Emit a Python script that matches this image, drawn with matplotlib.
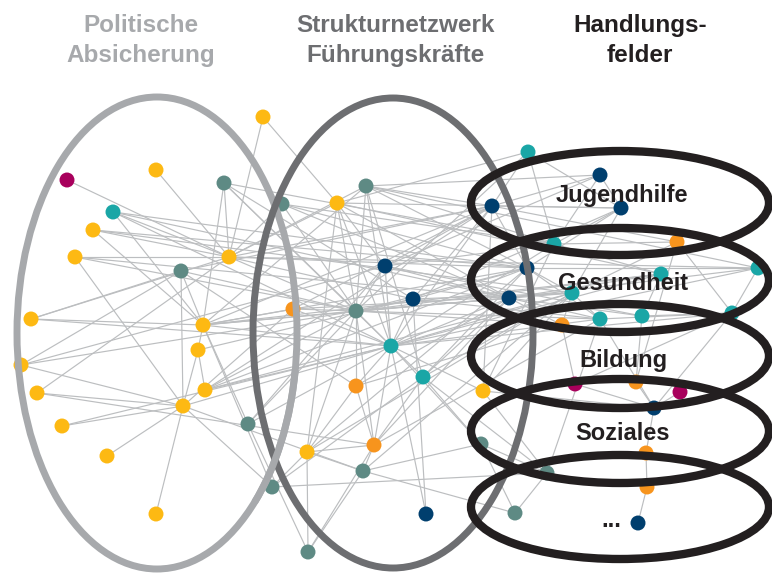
import matplotlib.pyplot as plt
from matplotlib.patches import Ellipse, Arc

# Node positions (pixel coords, y downwards) and their colour group
node_x = [263, 67, 156, 224, 113, 93, 75, 229, 181, 31, 203, 198, 21, 37, 205, 183, 62, 248, 107, 272, 156, 282, 293,
          366, 337, 385, 413, 356, 391, 423, 356, 374, 307, 363, 426, 308,
          528, 600, 492, 621, 554, 677, 527, 661, 758, 572, 509, 600, 642, 732, 562, 483, 575, 636, 680, 654, 481, 646,
          547, 647, 515, 638]
node_y = [117, 180, 170, 183, 212, 230, 257, 257, 271, 319, 325, 350, 365, 393, 390, 406, 426, 424, 456, 487, 514, 204, 309,
          186, 203, 266, 299, 311, 346, 377, 386, 445, 452, 471, 514, 552,
          152, 175, 206, 208, 244, 242, 268, 274, 268, 293, 298, 319, 316, 313, 325, 391, 384, 382, 392, 408, 444, 453,
          473, 487, 513, 523]
node_group = ['Y', 'M', 'Y', 'G', 'T', 'Y', 'Y', 'Y', 'G', 'Y', 'Y', 'Y', 'Y', 'Y', 'Y', 'Y', 'Y', 'G', 'Y', 'G', 'Y', 'G', 'O',
              'G', 'Y', 'N', 'N', 'G', 'T', 'T', 'O', 'O', 'Y', 'G', 'N', 'G',
              'T', 'N', 'N', 'N', 'T', 'O', 'N', 'T', 'T', 'T', 'N', 'T', 'T', 'T', 'O', 'Y', 'M', 'O', 'M', 'N', 'G', 'O',
              'G', 'O', 'G', 'N']

edges = [(1, 7), (2, 7), (0, 7), (0, 24), (3, 7), (3, 10), (3, 27), (3, 26), (3, 28), (4, 7), (4, 10), (4, 46), (4, 28),
         (5, 7), (5, 10), (5, 42), (6, 7), (6, 27), (6, 15), (8, 9), (8, 12), (8, 10), (8, 27), (8, 30), (8, 15),
         (9, 10), (9, 7), (10, 11), (10, 22), (10, 27), (10, 28), (10, 42), (10, 46), (10, 38), (10, 23), (10, 19),
         (10, 17), (11, 14), (11, 15), (12, 15), (12, 25), (13, 15), (13, 7), (14, 27), (14, 28), (14, 38), (15, 16),
         (15, 18), (15, 20), (15, 19), (15, 28), (15, 33), (15, 22), (7, 23), (7, 24), (7, 21), (7, 27), (7, 38),
         (7, 42), (7, 26), (17, 28), (17, 35), (17, 25), (19, 32), (19, 58), (21, 27), (21, 46), (21, 40), (22, 27),
         (22, 45), (23, 27), (23, 28), (23, 29), (23, 38), (23, 42), (23, 40), (24, 27), (24, 25), (24, 32), (24, 28),
         (24, 46), (24, 36), (25, 27), (25, 28), (25, 38), (25, 46), (25, 40), (26, 27), (26, 28), (26, 42), (26, 38),
         (27, 28), (27, 30), (27, 31), (27, 32), (27, 45), (27, 47), (27, 42), (27, 50), (28, 29), (28, 30), (28, 31),
         (28, 34), (28, 38), (28, 40), (28, 45), (28, 46), (28, 43), (28, 47), (28, 51), (29, 42), (29, 56), (29, 58),
         (30, 31), (31, 32), (31, 33), (31, 29), (31, 46), (32, 33), (33, 35), (33, 56), (36, 38), (36, 40), (37, 38),
         (37, 39), (37, 40), (38, 39), (38, 42), (39, 45), (39, 40), (39, 42), (40, 41), (42, 44), (42, 45), (43, 46),
         (43, 48), (44, 46), (45, 47), (46, 47), (46, 50), (47, 49), (48, 49), (49, 55), (49, 52), (50, 52), (51, 38),
         (51, 40), (52, 55), (53, 55), (54, 55), (47, 55), (48, 53), (55, 57), (56, 60), (56, 58), (57, 59), (58, 60),
         (59, 61), (51, 58), (41, 45), (41, 49), (36, 27), (41, 53), (32, 35), (30, 32), (26, 45), (29, 46),
         (7, 44), (10, 43), (6, 46), (5, 45), (4, 42), (9, 28), (12, 27), (13, 31), (16, 28), (14, 45), (14, 42),
         (11, 26), (8, 38), (3, 40), (21, 42), (23, 44), (24, 43), (25, 48), (26, 47), (27, 43), (28, 44), (28, 49),
         (30, 50), (31, 47), (32, 45), (25, 37), (26, 39), (23, 37), (24, 39), (27, 46), (29, 45), (30, 46),
         (32, 42), (33, 45), (34, 26), (35, 31), (22, 38), (22, 28), (17, 27), (19, 29), (51, 45), (51, 55),
         (56, 28), (58, 47), (60, 33), (36, 39), (38, 41), (40, 43), (42, 47), (46, 48), (45, 50), (44, 49)]

group_colors = {'Y': '#FDB913', 'M': '#A8005C', 'T': '#1AA6A6', 'G': '#5E8A84', 'N': '#003F6E', 'O': '#F7941D'}

titles = [("Politische", "Absicherung"), ("Strukturnetzwerk", "Führungskräfte"), ("Handlungs-", "felder")]
fields = ["Jugendhilfe", "Gesundheit", "Bildung", "Soziales", "..."]

fig = plt.figure(figsize=(7.72, 5.74), dpi=100)
ax = fig.add_axes([0, 0, 1, 1])
ax.set_xlim(0, 772)
ax.set_ylim(574, 0)
ax.axis('off')

for a, b in edges:
    ax.plot([node_x[a], node_x[b]], [node_y[a], node_y[b]], color='#BCBEC0', lw=0.85, zorder=1)

ax.scatter(node_x, node_y, s=116, c=[group_colors[g] for g in node_group], edgecolors='none', zorder=2)

light = '#A7A9AC'
dark = '#6D6E71'
black = '#231F20'

# big rings
ax.add_patch(Ellipse((157, 333), 280, 472, fill=False, ec=light, lw=5, zorder=3))
ax.add_patch(Ellipse((393, 333), 280, 470, fill=False, ec=dark, lw=5, zorder=4))
# lower part of light ring goes over the dark one
ax.add_patch(Arc((157, 333), 280, 472, theta1=15, theta2=60, ec=light, lw=5, zorder=4.5))

field_cy = [203, 280, 356, 431, 507]
for cy in field_cy:
    ax.add_patch(Ellipse((620, cy), 298, 104, fill=False, ec=black, lw=6, zorder=5))

# titles
font = ['Liberation Sans', 'DejaVu Sans']
title_x = [141, 396, 640]
title_col = [light, dark, black]
for (l1, l2), x, c in zip(titles, title_x, title_col):
    ax.text(x, 32, l1, ha='center', va='baseline', fontsize=17.5, fontweight='bold', color=c, family=font)
    ax.text(x, 62, l2, ha='center', va='baseline', fontsize=17.5, fontweight='bold', color=c, family=font)

label_y = [202, 290, 367, 440, 527]
label_x = [622, 623, 623, 623, 611]
for name, x, y in zip(fields, label_x, label_y):
    ax.text(x, y, name, ha='center', va='baseline', fontsize=17, fontweight='bold', color=black, family=font, zorder=7)

fig.savefig('out.png', dpi=100)
